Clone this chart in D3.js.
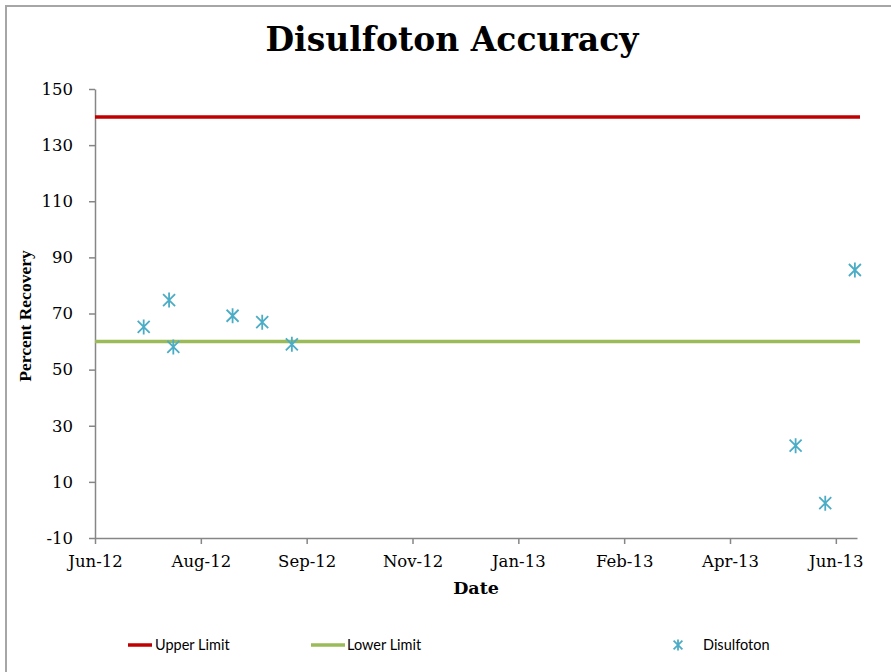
<!DOCTYPE html>
<html><head><meta charset="utf-8">
<script src="https://cdn.jsdelivr.net/npm/d3@7"></script>
<style>body{margin:0;background:#fff}svg{display:block}</style>
</head><body>
<script>
const dates = ["2012-07-13","2012-07-25","2012-07-27","2012-08-24","2012-09-07","2012-09-21","2013-05-17","2013-05-31","2013-06-14"];
const disulfoton = [65.2, 74.8, 58.1, 69.2, 66.9, 59.0, 22.9, 2.4, 85.5];
const upperLimit = 140;
const lowerLimit = 60;
const yTicks = [-10, 10, 30, 50, 70, 90, 110, 130, 150];
const xStart = "2012-06-20", xEnd = "2013-06-15", xStepDays = 50;
const title = "Disulfoton Accuracy";
const xTitle = "Date", yTitle = "Percent Recovery";
const legendNames = ["Upper Limit", "Lower Limit", "Disulfoton"];

const W = 891, H = 672;
const parse = d3.utcParse("%Y-%m-%d");
const svg = d3.select("body").append("svg").attr("width", W).attr("height", H);

// outer border (top & left visible)
svg.append("path").attr("d", `M6,${H} V6 H${W}`).attr("fill","none").attr("stroke","#a6a6a6").attr("stroke-width",2);

const m = {l:95, r:857, t:89, b:538};
const x0 = parse(xStart), x1 = parse(xEnd);
const x = d3.scaleUtc().domain([x0, x1]).range([m.l, m.r]);
const y = d3.scaleLinear().domain([-10, 150]).range([m.b, m.t]);

const xTickVals = [];
for (let t = +x0; t <= +x1; t += xStepDays*864e5) xTickVals.push(new Date(t));

const serif = "'DejaVu Serif', 'Liberation Serif', serif";

// Y axis
const ya = svg.append("g").attr("transform", `translate(${m.l},0)`)
  .call(d3.axisLeft(y).tickValues(yTicks).tickFormat(d => String(d)).tickSize(6).tickSizeOuter(0).tickPadding(16));
ya.select(".domain").attr("stroke","#868686").attr("stroke-width",1.5);
ya.selectAll(".tick line").attr("stroke","#868686").attr("stroke-width",1.5);
ya.selectAll(".tick text").attr("font-family", serif).attr("font-size", 16.5).attr("fill","#000");

// X axis
const xa = svg.append("g").attr("transform", `translate(0,${m.b})`)
  .call(d3.axisBottom(x).tickValues(xTickVals).tickFormat(d3.utcFormat("%b-%y")).tickSize(6).tickSizeOuter(0).tickPadding(11));
xa.select(".domain").attr("stroke","#868686").attr("stroke-width",1.5);
xa.selectAll(".tick line").attr("stroke","#868686").attr("stroke-width",1.5);
xa.selectAll(".tick text").attr("font-family", serif).attr("font-size", 16.5).attr("fill","#000");

// limit lines
svg.append("line").attr("x1", m.l).attr("x2", 860).attr("y1", y(upperLimit)).attr("y2", y(upperLimit))
  .attr("stroke","#c00000").attr("stroke-width",3.5);
svg.append("line").attr("x1", m.l).attr("x2", 860).attr("y1", y(lowerLimit)).attr("y2", y(lowerLimit))
  .attr("stroke","#9bbb59").attr("stroke-width",3.5);

// star markers
function star(g, cx, cy, r) {
  const a = r*0.8;
  g.append("path").attr("d",
    `M${cx},${cy-r}V${cy+r}M${cx-a},${cy-a}L${cx+a},${cy+a}M${cx-a},${cy+a}L${cx+a},${cy-a}`)
    .attr("stroke","#4bacc6").attr("stroke-width",1.8).attr("fill","none");
}
const pts = svg.append("g");
dates.forEach((d,i) => star(pts, x(parse(d)), y(disulfoton[i]), 7.5));

// titles
svg.append("text").attr("x", 452).attr("y", 51).attr("text-anchor","middle")
  .attr("font-family", serif).attr("font-weight","bold").attr("font-size", 33).text(title);
svg.append("text").attr("x", 476).attr("y", 594).attr("text-anchor","middle")
  .attr("font-family", serif).attr("font-weight","bold").attr("font-size", 17.5).text(xTitle);
svg.append("text").attr("transform","translate(31,316) rotate(-90)").attr("text-anchor","middle")
  .attr("font-family", "'Liberation Serif', serif").attr("font-weight","bold").attr("font-size", 17.5).text(yTitle);

// legend
const sans = "Lato, 'Open Sans', 'Liberation Sans', sans-serif";
const lg = svg.append("g");
const ly = 645;
lg.append("line").attr("x1",128).attr("x2",152).attr("y1",ly).attr("y2",ly).attr("stroke","#c00000").attr("stroke-width",3.5);
lg.append("text").attr("x",155).attr("y",ly+5).attr("font-family",sans).attr("font-size",14.5).text(legendNames[0]);
lg.append("line").attr("x1",311).attr("x2",345).attr("y1",ly).attr("y2",ly).attr("stroke","#9bbb59").attr("stroke-width",3.5);
lg.append("text").attr("x",347).attr("y",ly+5).attr("font-family",sans).attr("font-size",14.5).text(legendNames[1]);
star(lg, 678, ly, 5.5);
lg.append("text").attr("x",703).attr("y",ly+5).attr("font-family",sans).attr("font-size",14.5).text(legendNames[2]);
</script>
</body></html>
